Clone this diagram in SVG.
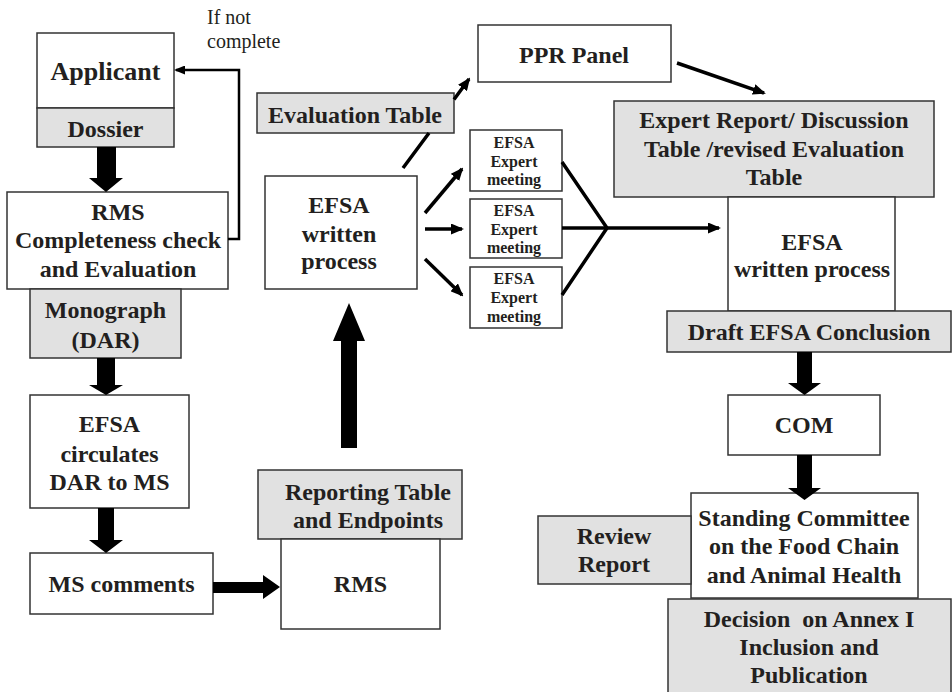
<svg xmlns="http://www.w3.org/2000/svg" width="952" height="692" viewBox="0 0 952 692">
<defs>
<style>
.box{fill:#ffffff;stroke:#333333;stroke-width:1.5}
.gbox{fill:#e1e1e1;stroke:#333333;stroke-width:1.5}
.t{font-family:"Liberation Serif","Times New Roman",serif;font-weight:bold;font-size:24px;fill:#231f20;text-anchor:middle}
.s{font-size:16px}
.n{font-family:"Liberation Serif","Times New Roman",serif;font-size:20px;fill:#231f20}
.ln{fill:none;stroke:#000000;stroke-width:3.5}
.blk{fill:#000000;stroke:none}
</style>
<marker id="ah" markerUnits="userSpaceOnUse" markerWidth="13" markerHeight="11" refX="11" refY="5.5" orient="auto">
<path d="M0,0 L13,5.5 L0,11 Z" fill="#000"/>
</marker>
<marker id="ahs" markerUnits="userSpaceOnUse" markerWidth="11" markerHeight="9" refX="9" refY="4.5" orient="auto">
<path d="M0,0 L11,4.5 L0,9 Z" fill="#000"/>
</marker>
</defs>
<rect width="952" height="692" fill="#ffffff"/>

<g id="applicant">
<rect class="box" x="37" y="33" width="137" height="75"/>
<text class="t" x="105.5" y="80" style="font-size:26px">Applicant</text>
</g>
<g id="dossier">
<rect class="gbox" x="37" y="108" width="137" height="39"/>
<text class="t" x="105.5" y="137">Dossier</text>
</g>
<g id="rms-check">
<rect class="box" x="7" y="192" width="221" height="97"/>
<text class="t" x="118" y="220">RMS</text>
<text class="t" x="118" y="248">Completeness check</text>
<text class="t" x="118" y="277">and Evaluation</text>
</g>
<g id="monograph">
<rect class="gbox" x="30" y="289" width="151" height="69"/>
<text class="t" x="105.5" y="318">Monograph</text>
<text class="t" x="105.5" y="348">(DAR)</text>
</g>
<g id="efsa-circulates">
<rect class="box" x="30" y="395" width="159" height="113"/>
<text class="t" x="109.5" y="432">EFSA</text>
<text class="t" x="109.5" y="462">circulates</text>
<text class="t" x="109.5" y="490">DAR to MS</text>
</g>
<g id="ms-comments">
<rect class="box" x="30" y="553" width="183" height="61"/>
<text class="t" x="121.5" y="592">MS comments</text>
</g>
<g id="reporting-table">
<rect class="gbox" x="258" y="470" width="204" height="69"/>
<text class="t" x="368" y="500">Reporting Table</text>
<text class="t" x="368" y="528">and Endpoints</text>
</g>
<g id="rms">
<rect class="box" x="281" y="539" width="159" height="90"/>
<text class="t" x="360.5" y="592">RMS</text>
</g>
<g id="efsa-written-1">
<rect class="box" x="265" y="176" width="152" height="113"/>
<text class="t" x="339" y="213">EFSA</text>
<text class="t" x="339" y="242">written</text>
<text class="t" x="339" y="269">process</text>
</g>
<g id="ppr-panel">
<rect class="box" x="478" y="25" width="193" height="57"/>
<text class="t" x="574" y="63">PPR Panel</text>
</g>
<g id="expert-meeting-1">
<rect class="box" x="470" y="130" width="92" height="61"/>
<text class="t s" x="514" y="148">EFSA</text>
<text class="t s" x="514" y="167">Expert</text>
<text class="t s" x="514" y="185">meeting</text>
</g>
<g id="expert-meeting-2">
<rect class="box" x="470" y="199" width="92" height="59"/>
<text class="t s" x="514" y="216">EFSA</text>
<text class="t s" x="514" y="235">Expert</text>
<text class="t s" x="514" y="253">meeting</text>
</g>
<g id="expert-meeting-3">
<rect class="box" x="470" y="267" width="92" height="61"/>
<text class="t s" x="514" y="284">EFSA</text>
<text class="t s" x="514" y="303">Expert</text>
<text class="t s" x="514" y="322">meeting</text>
</g>
<g id="expert-report">
<rect class="gbox" x="614" y="101" width="320" height="96"/>
<text class="t" x="774" y="128">Expert Report/ Discussion</text>
<text class="t" x="774" y="157">Table /revised Evaluation</text>
<text class="t" x="774" y="185">Table</text>
</g>
<g id="efsa-written-2">
<rect class="box" x="728" y="197" width="167" height="114"/>
<text class="t" x="812" y="250">EFSA</text>
<text class="t" x="812" y="277">written process</text>
</g>
<g id="draft-conclusion">
<rect class="gbox" x="667" y="311" width="284" height="41"/>
<text class="t" x="809" y="340">Draft EFSA Conclusion</text>
</g>
<g id="com">
<rect class="box" x="728" y="395" width="152" height="60"/>
<text class="t" x="804" y="433">COM</text>
</g>
<g id="standing-committee">
<rect class="box" x="691" y="493" width="227" height="105"/>
<text class="t" x="804" y="526">Standing Committee</text>
<text class="t" x="804" y="554">on the Food Chain</text>
<text class="t" x="804" y="583">and Animal Health</text>
</g>
<g id="review-report">
<rect class="gbox" x="538" y="516" width="153" height="68"/>
<text class="t" x="614" y="544">Review</text>
<text class="t" x="614" y="572">Report</text>
</g>
<g id="decision">
<rect class="gbox" x="668" y="599" width="283" height="100"/>
<text class="t" x="809" y="627" style="white-space:pre">Decision  on Annex I</text>
<text class="t" x="809" y="655">Inclusion and</text>
<text class="t" x="809" y="683">Publication</text>
</g>
<g id="evaluation-table">
<rect class="gbox" x="257" y="93" width="197" height="40"/>
<text class="t" x="355" y="123">Evaluation Table</text>
</g>
<g id="label-if-not-complete">
<text class="n" x="207" y="24">If not</text>
<text class="n" x="207" y="48">complete</text>
</g>

<g id="connectors">
<path class="blk" d="M97,147 H116 V178 H123 L106,192 L89,178 H97 Z"/>
<path class="blk" d="M97,358 H115 V385 H123 L106,395 L89,385 H97 Z"/>
<path class="blk" d="M98,508 H114 V540 H123 L106,553 L89,540 H98 Z"/>
<path class="blk" d="M213,582 H263 V575 L280,587 L263,599 V593 H213 Z"/>
<path class="blk" d="M341,448 V341 H333 L349,303 L365,341 H357 V448 Z"/>
<path class="blk" d="M797,352 H812 V383 H821 L804.5,395 L788,383 H797 Z"/>
<path class="blk" d="M797,455 H812 V488 H821 L804.5,500 L788,488 H797 Z"/>
<path class="ln" style="stroke-width:2.5" d="M228,239 H239 V70 H176" marker-end="url(#ahs)"/>
<path class="ln" d="M403,168 L429,133 M454,99.5 L469,79" marker-end="url(#ah)"/>
<path class="ln" d="M677,63 L764,93" marker-end="url(#ah)"/>
<path class="ln" d="M425,213 L462,169" marker-end="url(#ah)"/>
<path class="ln" d="M425,229 L462,229" marker-end="url(#ah)"/>
<path class="ln" d="M425,259 L462,295" marker-end="url(#ah)"/>
<path class="ln" d="M562,162 L607,228 L562,295"/>
<path class="ln" d="M562,228 L719,228" marker-end="url(#ah)"/>
</g>
</svg>
